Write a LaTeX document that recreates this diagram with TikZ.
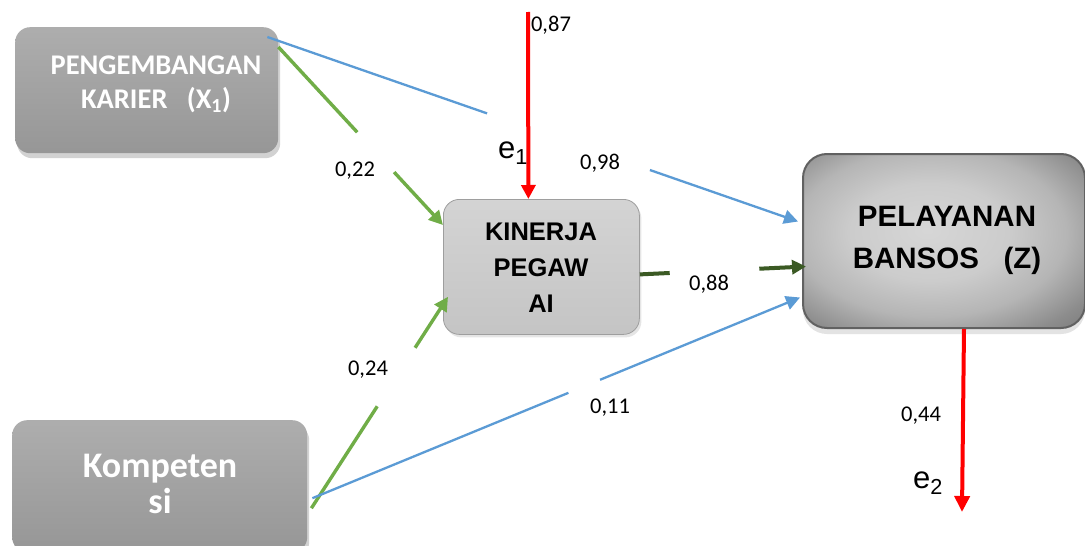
\documentclass[tikz,border=0pt]{standalone}
\usepackage{fontspec}
\setmainfont{Carlito}
\newfontfamily\arialfont{Liberation Sans}
\usetikzlibrary{arrows.meta,calc,shadows}

\definecolor{linkblue}{HTML}{5B9BD5}
\definecolor{linkgreen}{HTML}{70AD47}
\definecolor{pathgreen}{HTML}{3B5A24}
\definecolor{errred}{HTML}{FF0000}

% soft metallic glow for the outcome box
\pgfdeclareradialshading{softglow}{\pgfpoint{-3bp}{3bp}}{%
  color(0bp)=(black!16); color(14bp)=(black!20); color(24bp)=(black!29);
  color(33bp)=(black!45); color(42bp)=(black!56); color(50bp)=(black!60);
  color(100bp)=(black!60)}

\tikzset{
  varbox/.style={rectangle, rounded corners=15pt, anchor=north west,
    shading=axis, top color=black!32, bottom color=black!41, draw=none,
    drop shadow={opacity=0.35, shadow xshift=2pt, shadow yshift=-5pt}},
  midbox/.style={rectangle, rounded corners=16pt, anchor=north west,
    shading=axis, top color=black!17, bottom color=black!23,
    draw=black!38, line width=0.8pt,
    drop shadow={opacity=0.2, shadow xshift=2pt, shadow yshift=-3pt}},
  endbox/.style={rectangle, rounded corners=24pt, anchor=north west,
    shading=softglow, draw=black!62, line width=2pt,
    drop shadow={opacity=0.22, shadow xshift=0pt, shadow yshift=-6pt}},
  whitetitle/.style={text=white, align=center,
    font=\bfseries\fontsize{28.5}{34}\selectfont},
  blacktitle/.style={text=black, align=center, font=\arialfont\bfseries},
  coef/.style={font=\fontsize{22.5}{26}\selectfont, inner sep=0pt},
  errlabel/.style={font=\arialfont\fontsize{31}{31}\selectfont, inner sep=0pt},
  bluelink/.style={draw=linkblue, line width=2.3pt},
  greenlink/.style={draw=linkgreen, line width=3.4pt},
  darklink/.style={draw=pathgreen, line width=4pt},
  redlink/.style={draw=errred, line width=4pt},
  tip/.style={-{Triangle[length=14pt,width=14pt]}},
  bigtip/.style={-{Triangle[length=16pt,width=15pt]}}
}

\begin{document}
\begin{tikzpicture}[x=1pt,y=-1pt]
\useasboundingbox[fill=white] (0,0) rectangle (1085,546);

% latent variable boxes
\node[varbox, minimum width=263pt, minimum height=126pt] (x1) at (15,27) {};
\node[varbox, minimum width=295pt, minimum height=132pt] (kp) at (12,420) {};
\node[midbox, minimum width=196pt, minimum height=135pt] (kin) at (443,199) {};
\node[endbox, minimum width=282pt, minimum height=174pt] (pz) at (802,153) {};

% box titles
\node[whitetitle] (x1t) at (156,84) {PENGEMBANGAN\\KARIER\ \ \ (X\textsubscript{1})};
\node[whitetitle, font=\bfseries\fontsize{36}{36}\selectfont] (kpt) at (160,484) {Kompeten\\si};
\node[blacktitle, font=\arialfont\bfseries\fontsize{25.5}{36}\selectfont] (kint) at (541,268) {KINERJA\\PEGAW\\AI};
\node[blacktitle, font=\arialfont\bfseries\fontsize{29.5}{42}\selectfont] (pzt) at (947,240) {PELAYANAN\\BANSOS\ \ \ (Z)};

% connector end points
\coordinate (x1a) at ($(x1.north east)+(-11,10)$);
\coordinate (x1b) at ($(x1.north east)+(0,20)$);
\coordinate (kpa) at ($(kp.east)+(5,12)$);
\coordinate (kpb) at ($(kp.east)+(4,22)$);
\coordinate (kinA) at ($(kin.north west)+(0,26)$);
\coordinate (kinB) at ($(kin.south west)+(5,-38)$);
\coordinate (kinC) at ($(kin.east)+(0,7.5)$);
\coordinate (pzA) at ($(pz.west)+(-4,-19.5)$);
\coordinate (pzB) at ($(pz.west)+(4,25.5)$);
\coordinate (pzC) at ($(pz.west)+(-2,56.5)$);
\coordinate (e1top) at (528,12);
\coordinate (e1tip) at ($(kin.north)+(-13,0)$);
\coordinate (e2top) at ($(pz.south)+(20,0)$);
\coordinate (e2tip) at (962,512);

% paths, broken where the coefficients sit
\draw[bluelink] (x1a) -- ($(x1a)!0.414!(pzA)$);
\draw[bluelink, tip] ($(x1a)!0.721!(pzA)$) -- (pzA);

\draw[greenlink] (x1b) -- ($(x1b)!0.479!(kinA)$);
\draw[greenlink, tip] ($(x1b)!0.703!(kinA)$) -- (kinA);

\draw[greenlink] (kpb) -- ($(kpb)!0.482!(kinB)$);
\draw[greenlink, tip] ($(kpb)!0.759!(kinB)$) -- (kinB);

\draw[bluelink] (kpa) -- ($(kpa)!0.525!(pzC)$);
\draw[bluelink, tip] ($(kpa)!0.590!(pzC)$) -- (pzC);

\draw[darklink] (kinC) -- ($(kinC)!0.18!(pzB)$);
\draw[darklink, tip] ($(kinC)!0.719!(pzB)$) -- (pzB);

% residual arrows
\draw[redlink, tip] (e1top) -- (e1tip);
\draw[redlink, bigtip] (e2top) -- (e2tip);

% coefficients
\node[coef] (c87) at (551,25) {0,87};
\node[coef] (c98) at (600,163) {0,98};
\node[coef] (c22) at (355,171) {0,22};
\node[coef] (c24) at (368,370) {0,24};
\node[coef] (c88) at (709,284) {0,88};
\node[coef] (c11) at (610,408) {0,11};
\node[coef] (c44) at (921,416) {0,44};
\node[errlabel] (e1) at (513,153) {e\textsubscript{1}};
\node[errlabel] (e2) at (928,483) {e\textsubscript{2}};
\end{tikzpicture}
\end{document}
